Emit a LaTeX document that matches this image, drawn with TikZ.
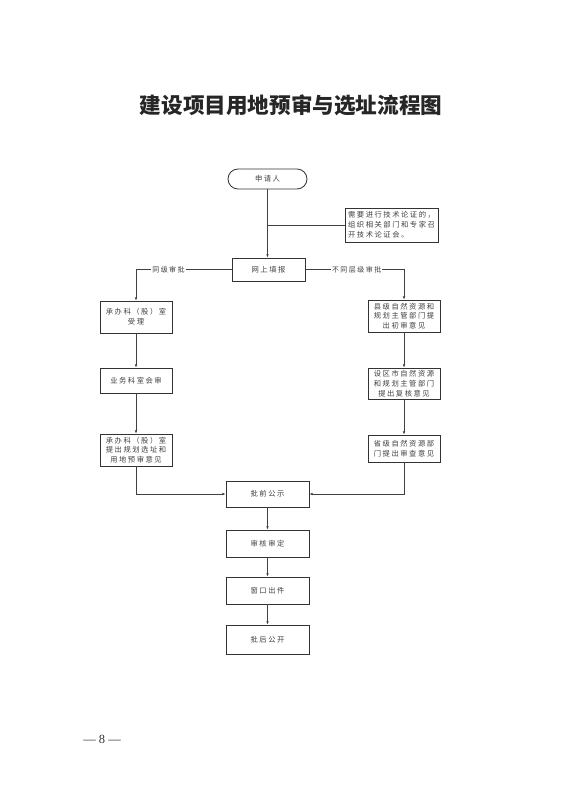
\documentclass[tikz,border=0pt]{standalone}
\usepackage{fontspec}
\setmainfont{Liberation Serif}
\newfontfamily\cjk{Noto Sans CJK SC}
\newfontfamily\cjkw{Noto Sans CJK SC}[LetterSpace=21]
\usetikzlibrary{arrows.meta}
\begin{document}
\begin{tikzpicture}[x=1pt,y=-1pt,
  box/.style={draw=black!80, line width=0.85pt, align=center, inner sep=1pt,
    font=\cjkw\fontsize{7.3}{9.8}\selectfont, text=black!75},
  conn/.style={draw=black!75, line width=0.85pt},
  arr/.style={conn, -{Latex[length=3.2pt,width=2.6pt]}},
  lbl/.style={fill=white, inner sep=1pt, font=\cjkw\fontsize{7}{8}\selectfont, text=black!75}]
\useasboundingbox[fill=white] (0,0) rectangle (572,800);
\node[font=\cjk\bfseries\fontsize{21.6}{24}\selectfont, text=black!85] (title) at (291,105) {建设项目用地预审与选址流程图};
\node[box, rounded corners=10pt, minimum width=79pt, minimum height=20pt] (sq) at (267.5,179) {申请人};
\node[box, minimum width=93pt, minimum height=34pt, align=left, inner sep=2pt, font=\cjkw\fontsize{7.3}{10}\selectfont] (note) at (391.5,225) {需要进行技术论证的，\\组织相关部门和专家召\\开技术论证会。};
\node[box, minimum width=73pt, minimum height=23pt] (wsb) at (268.5,269.5) {网上填报};
\node[box, minimum width=72pt, minimum height=32pt] (L1) at (136,317) {承办科（股）室\\受理};
\node[box, minimum width=72pt, minimum height=25pt] (L2) at (136,380.5) {业务科室会审};
\node[box, minimum width=72pt, minimum height=32pt] (L3) at (136,450) {承办科（股）室\\提出规划选址和\\用地预审意见};
\node[box, minimum width=72pt, minimum height=32pt] (R1) at (404,316) {县级自然资源和\\规划主管部门提\\出初审意见};
\node[box, minimum width=72pt, minimum height=31pt] (R2) at (404,383.5) {设区市自然资源\\和规划主管部门\\提出复核意见};
\node[box, minimum width=72pt, minimum height=27pt] (R3) at (404,448.5) {省级自然资源部\\门提出审查意见};
\node[box, minimum width=83pt, minimum height=26pt] (C1) at (267.5,494) {批前公示};
\node[box, minimum width=83pt, minimum height=27pt] (C2) at (267.5,543.5) {审核审定};
\node[box, minimum width=83pt, minimum height=27pt] (C3) at (267.5,590.5) {窗口出件};
\node[box, minimum width=83pt, minimum height=29pt] (C4) at (267.5,639.5) {批后公开};
\node[font=\fontsize{12.5}{14}\selectfont, text=black!80] (pg) at (102,739) {— 8 —};
% connectors
\draw[arr] (sq.south) -- (sq.south |- wsb.north);
\draw[conn] (note.west) -- (note.west -| sq.south);
\draw[arr] (wsb.west) -| node[lbl, pos=0.33] {同级审批} (L1.north);
\draw[arr] (wsb.east) -| node[lbl, pos=0.26] {不同层级审批} (R1.north);
\draw[arr] (L1) -- (L2);
\draw[arr] (L2) -- (L3);
\draw[arr] (R1) -- (R2);
\draw[arr] (R2) -- (R3);
\draw[arr] (L3.south) |- (C1.west);
\draw[arr] (R3.south) |- (C1.east);
\draw[arr] (C1) -- (C2);
\draw[arr] (C2) -- (C3);
\draw[arr] (C3) -- (C4);
\end{tikzpicture}
\end{document}
